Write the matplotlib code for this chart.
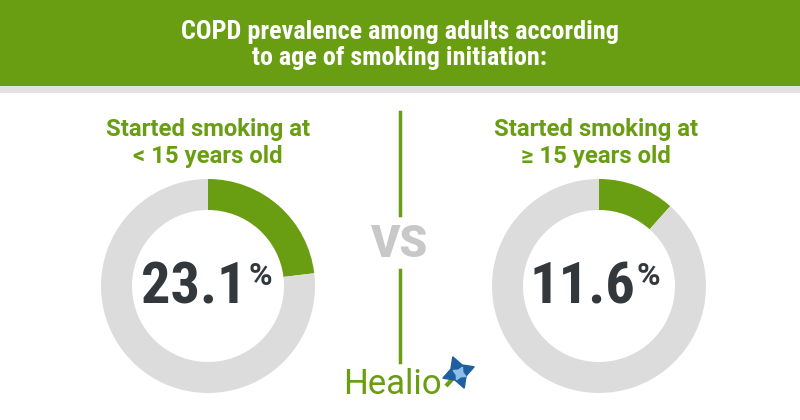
import matplotlib
matplotlib.use("Agg")
import matplotlib.pyplot as plt
from matplotlib.patches import Rectangle

# 数据
title = "COPD prevalence among adults according\nto age of smoking initiation:"
groups = ["Started smoking at\n< 15 years old", "Started smoking at\n\u2265 15 years old"]
prevalence = [23.1, 11.6]

GREEN = "#6a9e12"
GRAY = "#dcdcdc"
DARK = "#33383d"
H = 420

fig = plt.figure(figsize=(8, 4.2), dpi=100)
ax = fig.add_axes([0, 0, 1, 1])

# 标题栏
ax.add_patch(Rectangle((0, H - 86), 800, 86, facecolor=GREEN, edgecolor='none'))
ax.add_patch(Rectangle((0, H - 93), 800, 7, facecolor="#e2e2e2", edgecolor='none'))
ax.text(400, H - 45, title, ha='center', va='center', color='white', fontsize=18.8,
        fontweight='bold', family='Roboto Condensed', linespacing=1.15)

centers = [208, 596]
for cx, label, val in zip(centers, groups, prevalence):
    ax.text(cx, H - 143, label, ha='center', va='center', color=GREEN, fontsize=17.2,
            fontweight='bold', family='Roboto', linespacing=1.2)
    ax.pie([val, 100 - val], colors=[GREEN, GRAY], startangle=90, counterclock=False,
           radius=107, center=(cx + (3 if cx > 400 else 0), H - 286), frame=True,
           wedgeprops=dict(width=31, edgecolor='none'))
    ax.text(cx + 39, H - 288, f"{val:.1f}", ha='right', va='center', color=DARK,
            fontsize=42, fontweight='bold', family='Roboto Condensed')
    ax.text(cx + 40, H - 276, "%", ha='left', va='center', color=DARK,
            fontsize=23, fontweight='bold', family='Roboto')

ax.set_xlim(0, 800)
ax.set_ylim(0, H)
ax.set_aspect('equal')
ax.axis('off')

# VS
ax.plot([400, 400], [H - 112, H - 215], color=GREEN, lw=2.5)
ax.plot([400, 400], [H - 270, H - 362], color=GREEN, lw=2.5)
ax.text(399, H - 245, "VS", ha='center', va='center', color="#c8c8c8", fontsize=32,
        fontweight='heavy', family='Roboto')

# Healio 标志
ax.text(392, H - 384, "Healio", ha='center', va='center', color=GREEN, fontsize=25,
        family='Roboto')
ax.plot([446, 457], [H - 386, H - 374], color=GREEN, lw=3, solid_capstyle='butt')
ax.plot(458, H - 372, marker=(4, 1, 20), markersize=24, color="#1f5fa0")
ax.plot(459, H - 373, marker=(4, 1, 65), markersize=10, color="#8cc0e8")

fig.savefig("out.png", dpi=100, facecolor='white')
